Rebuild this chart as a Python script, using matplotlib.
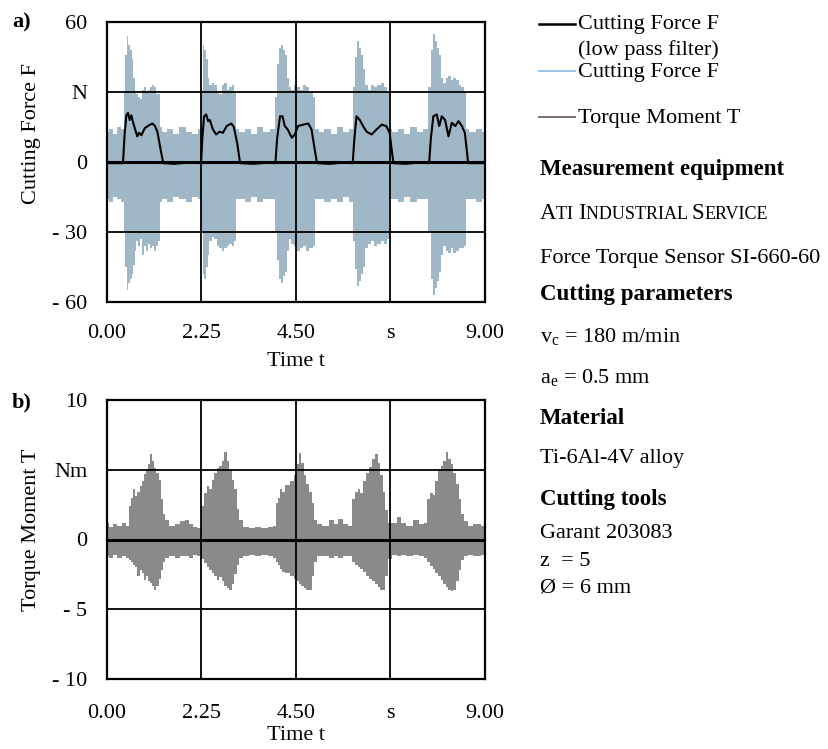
import numpy as np
import matplotlib
matplotlib.use("Agg")
import matplotlib.pyplot as plt
from matplotlib.lines import Line2D
from matplotlib.offsetbox import TextArea, HPacker, AnnotationBbox

plt.rcParams["font.family"] = ["Liberation Serif", "DejaVu Serif"]
plt.rcParams["mathtext.fontset"] = "custom"
plt.rcParams["mathtext.rm"] = "Liberation Serif"

# ---- data (envelopes of the raw signals) ----
force_t = [0.0, 0.1, 0.2, 0.3, 0.38, 0.41, 0.45, 0.49, 0.53, 0.57, 0.61, 0.65, 0.68, 0.72, 0.76,
           0.80, 0.85, 0.90, 0.95, 1.00, 1.05, 1.10, 1.15, 1.20, 1.24, 1.27,
           1.35, 1.5, 1.65, 1.8, 1.95, 2.1, 2.22,
           2.26, 2.30, 2.34, 2.38, 2.42, 2.46, 2.52, 2.58, 2.64, 2.70, 2.76, 2.82, 2.88, 2.94,
           3.00, 3.05, 3.09,
           3.2, 3.35, 3.5, 3.65, 3.8, 3.95,
           4.03, 4.08, 4.13, 4.17, 4.21, 4.25, 4.30, 4.36, 4.42, 4.48, 4.55, 4.62, 4.70, 4.78,
           4.86, 4.93, 4.98,
           5.1, 5.25, 5.4, 5.55, 5.7, 5.83,
           5.88, 5.93, 5.98, 6.02, 6.07, 6.12, 6.17, 6.24, 6.32, 6.40, 6.48, 6.56, 6.63, 6.69, 6.73,
           6.85, 7.0, 7.15, 7.3, 7.45, 7.6,
           7.68, 7.73, 7.78, 7.83, 7.88, 7.93, 7.98, 8.04, 8.10, 8.16, 8.22, 8.28, 8.34, 8.40,
           8.46, 8.52, 8.56,
           8.7, 8.85, 9.0]
force_hi = [13, 14, 12, 15, 14, 30, 46, 54, 50, 48, 44, 36, 30, 29, 28,
            27, 31, 32, 30, 31, 32, 33, 32, 29, 29, 15,
            13, 14, 12, 15, 13, 12, 14,
            30, 50, 48, 44, 36, 33, 34, 33, 30, 29, 33, 34, 31, 32,
            33, 30, 14,
            13, 14, 12, 15, 13, 14,
            28, 42, 49, 50, 48, 46, 36, 32, 31, 33, 32, 31, 33, 32,
            30, 28, 14,
            13, 14, 12, 15, 13, 14,
            32, 45, 52, 49, 46, 40, 33, 31, 33, 32, 33, 34, 32, 30, 14,
            13, 14, 12, 15, 13, 14,
            32, 48, 55, 52, 49, 46, 36, 34, 36, 37, 35, 36, 35, 33,
            32, 30, 14,
            13, 14, 13]
force_lo = [-16, -17, -15, -16, -17, -30, -45, -55, -52, -50, -48, -44, -38, -34, -36,
            -33, -40, -36, -38, -35, -37, -36, -38, -36, -34, -17,
            -16, -17, -15, -16, -17, -15, -16,
            -30, -48, -50, -45, -40, -34, -32, -33, -36, -37, -38, -37, -36, -35,
            -36, -34, -16,
            -16, -17, -15, -17, -16, -16,
            -30, -42, -50, -52, -49, -47, -38, -33, -35, -36, -38, -37, -36, -38,
            -37, -36, -16,
            -16, -17, -16, -17, -15, -17,
            -34, -46, -53, -51, -48, -45, -37, -35, -34, -36, -35, -34, -35, -33, -16,
            -16, -17, -15, -17, -16, -16,
            -30, -50, -57, -54, -51, -47, -40, -36, -38, -39, -37, -39, -38, -37,
            -37, -36, -16,
            -16, -17, -16]

# low pass filtered cutting force
lp_t = [0.0, 0.38, 0.42, 0.46, 0.50, 0.54, 0.58, 0.62, 0.67, 0.72, 0.76, 0.82, 0.90, 0.98, 1.08,
        1.14, 1.20, 1.28, 1.34, 1.6, 1.9, 2.24,
        2.27, 2.31, 2.36, 2.41, 2.45, 2.52, 2.60, 2.68, 2.76, 2.85, 2.96, 3.02, 3.10, 3.17,
        3.5, 3.8, 4.01,
        4.05, 4.12, 4.18, 4.23, 4.30, 4.40, 4.47, 4.55, 4.67, 4.79, 4.87, 4.94, 5.0,
        5.3, 5.6, 5.85,
        5.89, 5.94, 6.02, 6.10, 6.18, 6.30, 6.42, 6.54, 6.65, 6.73, 6.78, 6.82,
        7.1, 7.4, 7.67,
        7.71, 7.77, 7.85, 7.91, 7.97, 8.05, 8.13, 8.21, 8.29, 8.37, 8.45, 8.52, 8.56, 8.6,
        9.0]
lp_f = [-0.5, -0.5, 12, 20, 21, 18, 20, 17, 14, 11, 12.5, 11.5, 14.5, 15.5, 16.5,
        15.5, 13, 5, -0.5, -0.8, -0.3, -0.5,
        10, 19.5, 20.4, 17.5, 18, 14, 11.8, 13, 12.5, 15.4, 16.5, 15, 8, -0.5,
        -0.8, -0.3, -0.5,
        10, 19.6, 19.6, 15.5, 14, 10.4, 11.8, 15.4, 16, 16.5, 14, 6, -0.5,
        -0.8, -0.3, -0.5,
        10, 19.6, 18, 15.3, 13, 11.8, 14, 16, 15.4, 12.5, 5, -0.5,
        -0.8, -0.3, -0.5,
        10, 19.6, 20.4, 15.4, 19.6, 18, 11, 16.8, 15.4, 17.5, 15.4, 12.5, 6, -0.5,
        -0.5]

torque_t = [0.0, 0.1, 0.2, 0.3, 0.4, 0.5, 0.55, 0.6, 0.65, 0.7, 0.75, 0.8, 0.85, 0.9, 0.95,
            1.0, 1.05, 1.1, 1.15, 1.2, 1.26, 1.31, 1.36, 1.42, 1.55, 1.7, 1.8, 1.9, 2.0, 2.1,
            2.2, 2.28, 2.34, 2.40, 2.46, 2.52, 2.58, 2.64, 2.70, 2.76, 2.82, 2.88, 2.94, 3.00,
            3.06, 3.12, 3.18, 3.3, 3.45, 3.6, 3.75, 3.9, 4.0, 4.05, 4.1, 4.15, 4.2, 4.3, 4.4,
            4.5, 4.55, 4.6, 4.66, 4.72, 4.78, 4.84, 4.9, 4.96, 5.05, 5.2, 5.35, 5.45, 5.55,
            5.7, 5.8, 5.88, 5.95, 6.0, 6.05, 6.12, 6.2, 6.28, 6.36, 6.42, 6.48, 6.54, 6.6,
            6.66, 6.72, 6.85, 6.95, 7.05, 7.2, 7.35, 7.5, 7.6, 7.65, 7.72, 7.79, 7.85, 7.92,
            7.98, 8.04, 8.1, 8.16, 8.22, 8.28, 8.34, 8.4, 8.46, 8.52, 8.65, 8.8, 9.0]
torque_hi = [1.2, 0.9, 1.1, 1.0, 1.2, 1.0, 2.4, 3.0, 3.6, 3.1, 3.4, 3.8, 4.2, 4.7, 5.0,
             5.4, 6.1, 5.6, 5.1, 4.8, 4.3, 2.9, 1.8, 1.4, 1.0, 1.1, 1.3, 1.4, 1.1, 0.9,
             0.8, 2.4, 3.3, 3.8, 3.6, 4.3, 4.8, 5.1, 5.3, 5.6, 6.3, 5.6, 5.0, 4.3,
             3.6, 2.2, 1.4, 0.9, 0.8, 0.9, 0.8, 0.9, 1.0, 2.6, 3.0, 3.6, 3.4, 3.9, 4.2,
             4.6, 5.4, 6.2, 5.5, 4.6, 4.0, 3.4, 2.6, 1.4, 1.1, 1.0, 1.4, 1.1, 1.5,
             1.1, 1.0, 2.9, 3.4, 3.6, 3.3, 4.2, 4.8, 5.2, 5.8, 6.1, 5.5, 4.6, 3.4,
             2.1, 1.2, 1.2, 1.6, 1.2, 1.0, 1.4, 1.1, 1.2, 2.9, 3.3, 3.2, 4.2, 5.0,
             5.3, 5.6, 6.3, 5.8, 5.4, 4.8, 4.0, 2.9, 1.8, 1.3, 1.0, 1.1, 1.0]
torque_lo = [-1.2, -1.3, -1.1, -1.3, -1.2, -1.3, -1.5, -1.6, -1.8, -2.0, -2.6, -2.2, -2.4, -2.9, -2.6,
             -3.0, -3.1, -3.3, -3.6, -3.3, -2.8, -2.2, -1.6, -1.3, -1.2, -1.3, -1.2, -1.2, -1.3, -1.1,
             -1.2, -1.4, -1.7, -2.0, -2.2, -2.4, -2.6, -2.9, -2.7, -3.0, -3.3, -3.5, -3.6, -3.2,
             -2.5, -1.8, -1.3, -1.2, -1.1, -1.2, -1.1, -1.2, -1.3, -1.6, -1.8, -2.1, -2.3, -2.4, -2.6,
             -2.8, -3.0, -3.2, -3.3, -3.5, -3.6, -3.6, -2.6, -1.6, -1.2, -1.2, -1.3, -1.2, -1.3,
             -1.2, -1.2, -1.6, -1.8, -2.0, -2.1, -2.3, -2.6, -2.8, -3.0, -3.2, -3.4, -3.6, -3.6,
             -2.6, -1.4, -1.1, -1.2, -1.1, -1.2, -1.1, -1.2, -1.3, -1.6, -1.9, -2.1, -2.4, -2.6,
             -2.9, -3.2, -3.4, -3.6, -3.7, -3.6, -3.0, -2.2, -1.5, -1.2, -1.1, -1.2, -1.1]

x_ticks = [0, 2.25, 4.5, 6.75, 9]
x_labels = ["0.00", "2.25", "4.50", "s", "9.00"]
f_ticks = [-60, -30, 0, 30, 60]
f_labels = ["- 60", "- 30", "0", "N", "60"]
m_ticks = [-10, -5, 0, 5, 10]
m_labels = ["- 10", "- 5", "0", "Nm", "10"]

FS = 16
FSB = 16.5
W, H = 829, 749
fig = plt.figure(figsize=(W / 100, H / 100), dpi=100)

ax1 = fig.add_axes([107 / W, 1 - 302 / H, 378 / W, 280 / H])
ax2 = fig.add_axes([107 / W, 1 - 679 / H, 378 / W, 279 / H])

ax1.fill_between(force_t, force_lo, force_hi, step="mid", color="#a0b7c7", lw=0, zorder=1)
ax1.plot(lp_t, lp_f, color="black", lw=1.5, zorder=4)
ax2.fill_between(torque_t, torque_lo, torque_hi, step="mid", color="#8a8a8a", lw=0, zorder=1)

for ax, ticks, labels, ylab, ycoord, xpad, lpad in [
        (ax1, f_ticks, f_labels, "Cutting Force F", 0.6, 16, 6),
        (ax2, m_ticks, m_labels, "Torque Moment T", 0.534, 18, 2)]:
    ax.set_xlim(0, 9)
    ax.set_ylim(ticks[0], ticks[-1])
    ax.set_xticks(x_ticks)
    ax.set_xticklabels(x_labels)
    ax.set_yticks(ticks)
    ax.set_yticklabels(labels)
    ax.tick_params(length=0, labelsize=FS)
    ax.tick_params(axis="y", pad=14)
    ax.tick_params(axis="x", pad=xpad)
    ax.grid(True, color="black", lw=1.3)
    ax.set_axisbelow(False)
    ax.axhline(0, color="black", lw=2.2, zorder=3)
    for s in ax.spines.values():
        s.set_linewidth(1.6)
    ax.set_xlabel("Time t", fontsize=FS, labelpad=lpad)
    ax.set_ylabel(ylab, fontsize=FS)
    ax.yaxis.set_label_coords(-0.175, ycoord)

fig.text(12 / W, 1 - 22 / H, "a)", fontsize=FS, weight="bold", va="center")
fig.text(12 / W, 1 - 402 / H, "b)", fontsize=FS, weight="bold", va="center")

# legend, drawn by hand on the right
leg = [(24, "black", 1.8), (71, "#9dc3e6", 1.4), (117, "#7b6a6a", 1.4)]
for y, c, lw in leg:
    fig.add_artist(Line2D([539 / W, 575 / W], [1 - y / H, 1 - y / H], color=c, lw=lw))
for y, s in [(24, "Cutting Force F"), (50, "(low pass filter)"), (72, "Cutting Force F"),
             (118, "Torque Moment T")]:
    fig.text(578 / W, 1 - y / H, s, fontsize=FS, va="center")

X0 = 540 / W
for y, s in [(170, "Measurement equipment"), (294, "Cutting parameters"), (418, "Material"),
             (499, "Cutting tools")]:
    fig.text(X0, 1 - y / H, s, fontsize=FSB, weight="bold", va="center")
for y, s in [(258, "Force Torque Sensor SI-660-60"),
             (337, r"v$_\mathregular{c}$ = 180 m/min"),
             (378, r"a$_\mathregular{e}$ = 0.5 mm"),
             (459, "Ti-6Al-4V alloy"), (534, "Garant 203083"), (561, "z  = 5"),
             (588, "Ø = 6 mm")]:
    fig.text(X0, 1 - y / H, s, fontsize=FS, va="center")

# small caps line
parts = [("A", 16.5), ("TI ", 13), ("I", 16.5), ("NDUSTRIAL ", 13), ("S", 16.5), ("ERVICE", 13)]
boxes = [TextArea(p, textprops=dict(fontsize=sz, family="Liberation Serif")) for p, sz in parts]
pack = HPacker(children=boxes, align="baseline", pad=0, sep=0)
ab = AnnotationBbox(pack, (X0, 1 - 213 / H), xycoords="figure fraction",
                    box_alignment=(0, 0.5), frameon=False, pad=0)
fig.add_artist(ab)

fig.savefig("out.png", dpi=100)
